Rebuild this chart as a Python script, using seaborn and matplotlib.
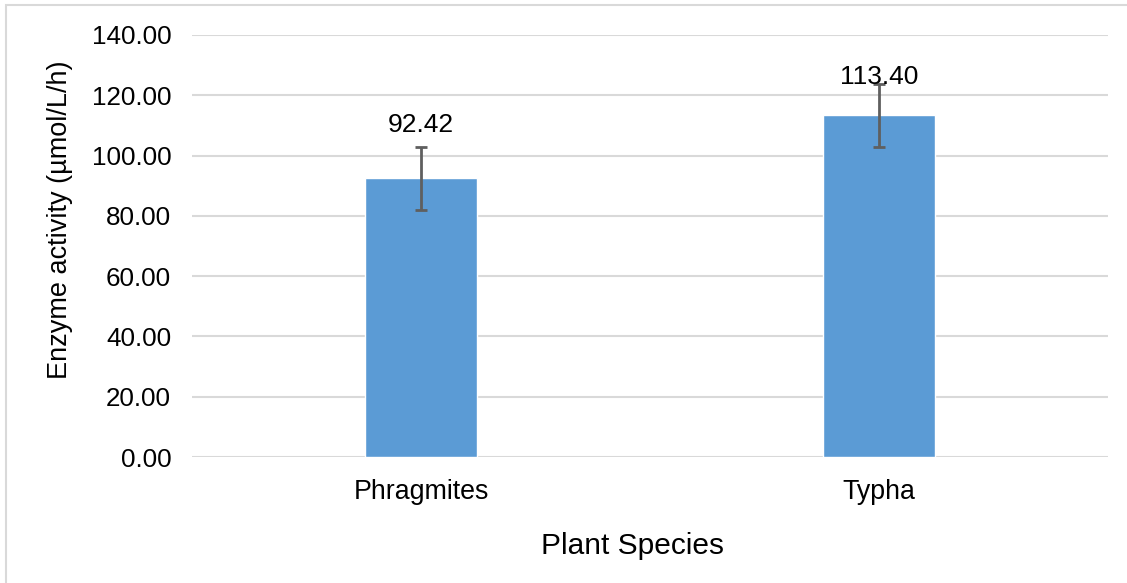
import matplotlib
matplotlib.use("Agg")
import matplotlib.pyplot as plt
import seaborn as sns
import pandas as pd
from matplotlib.patches import Rectangle

# ---- data ----
species = ["Phragmites", "Typha"]
activity = [92.42, 113.40]
errors = [10.5, 10.4]
value_labels = ["92.42", "113.40"]
yticks = [0, 20, 40, 60, 80, 100, 120, 140]

df = pd.DataFrame({"Plant Species": species, "activity": activity})

sns.set_theme(style="white")
plt.rcParams["font.family"] = ["Liberation Sans", "DejaVu Sans"]

fig = plt.figure(figsize=(11.27, 5.83), dpi=100)
ax = fig.add_axes([0.1704, 0.2161, 0.8126, 0.7239])

sns.barplot(data=df, x="Plant Species", y="activity", color="#5B9BD5",
            saturation=1, width=0.244, errorbar=None, ax=ax, zorder=3)

xs = list(range(len(species)))
ax.errorbar(xs, activity, yerr=errors, fmt="none", ecolor="#5f5f5f",
            elinewidth=2, capsize=4.5, capthick=2, zorder=4)

label_offsets = [17.8, 12.7]
for x, v, t, off in zip(xs, activity, value_labels, label_offsets):
    ax.text(x, v + off, t, ha="center", va="center", fontsize=19,
            color="#000000", zorder=5)

ax.set_ylim(0, 140)
ax.set_xlim(-0.5, 1.5)
ax.set_yticks(yticks)
ax.set_yticklabels([f"{t:.2f}" for t in yticks])
ax.yaxis.grid(True, color="#d9d9d9", linewidth=1.5, zorder=0)
ax.set_axisbelow(True)
for s in ax.spines.values():
    s.set_visible(False)
ax.tick_params(axis="y", length=0, pad=15, labelsize=18.7, labelcolor="#000000")
ax.tick_params(axis="x", length=0, pad=16, labelsize=19.3, labelcolor="#000000")

ax.set_xlabel("Plant Species", fontsize=21.5, color="#000000", labelpad=19)
ax.xaxis.label.set_x((633 - 192) / 916)
ax.set_ylabel("Enzyme activity (µmol/L/h)", fontsize=19.5, color="#000000")
ax.yaxis.set_label_coords(-0.1296, 0.5616)

fig.patches.append(Rectangle((6 / 1127, -0.1), 1.2, (583 - 5) / 583 + 0.1,
                             transform=fig.transFigure, fill=False,
                             edgecolor="#d9d9d9", linewidth=1.5))

fig.savefig("out.png", dpi=100)
